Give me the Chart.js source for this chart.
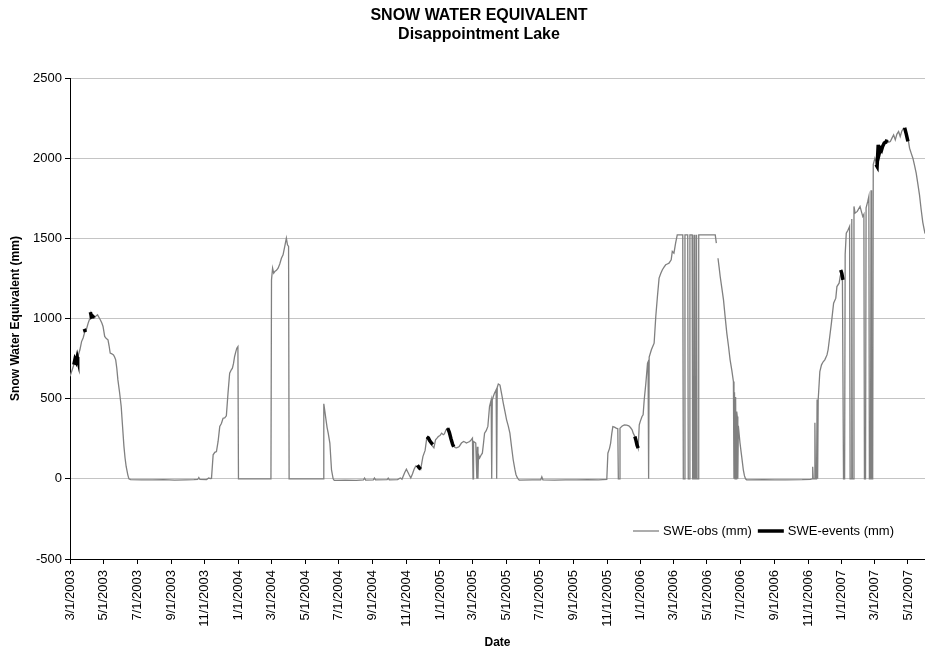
<!DOCTYPE html>
<html>
<head>
<meta charset="utf-8">
<script src="https://cdn.jsdelivr.net/npm/chart.js@4.4.1/dist/chart.umd.min.js"></script>
<style>
  html, body { margin: 0; padding: 0; background: #fff; }
  #wrap { width: 925px; height: 658px; }
</style>
</head>
<body>
<div id="wrap"><canvas id="swe" width="925" height="658"></canvas></div>
<script>
// ---- data -------------------------------------------------------------
const chartTitle = 'SNOW WATER EQUIVALENT';
const chartSubtitle = 'Disappointment Lake';
const xTitle = 'Date';
const yTitle = 'Snow Water Equivalent (mm)';
const startDate = '3/1/2003';
const endDate = '6/1/2007';

const tickLabels = [
  '3/1/2003', '5/1/2003', '7/1/2003', '9/1/2003', '11/1/2003',
  '1/1/2004', '3/1/2004', '5/1/2004', '7/1/2004', '9/1/2004', '11/1/2004',
  '1/1/2005', '3/1/2005', '5/1/2005', '7/1/2005', '9/1/2005', '11/1/2005',
  '1/1/2006', '3/1/2006', '5/1/2006', '7/1/2006', '9/1/2006', '11/1/2006',
  '1/1/2007', '3/1/2007', '5/1/2007'
];

// Observed SWE: [days since 3/1/2003, mm]
const obs2003 = [
  [0,640],[4,680],[7,712],[10,740],[13,745],[15,770],[18,805],[21,856],[24,880],[27,919],
  [30,935],[33,971],[36,1000],[38,1035],[40,1012],[44,1002],[47,1015],[50,1023],[53,1005],
  [55,992],[58,970],[60,950],[63,888],[66,875],[69,867],[71,830],[73,784],[76,780],[79,773],
  [81,760],[83,742],[85,690],[87,617],[90,540],[93,451],[95,350],[98,201],[100,130],[102,77],
  [105,25],[107,0],[110,-5],[130,-6],[150,-7],[170,-5],[190,-8],[210,-6],[225,-5],[232,-4],
  [234,8],[236,-4],[248,-5],[252,5],[255,2],[257,3]
];
const obs2004 = [
  [260,150],[263,165],[266,170],[269,233],[272,326],[275,345],[278,378],[281,380],[284,393],
  [287,534],[290,659],[293,680],[295,690],[297,720],[299,763],[301,790],[303,815],[305,825],
  [306,0],[365,0],[366,1241],[368,1314],[370,1283],[372,1293],[375,1300],[378,1314],[381,1340],
  [384,1376],[387,1397],[390,1449],[393,1501],[395,1460],[397,1450],[398,0],[460,0],[461,468],
  [463,420],[465,368],[467,320],[469,285],[472,223],[475,56],[478,0],[480,-10],[500,-8],
  [520,-9],[533,-7],[535,5],[537,-8],[551,-6],[553,5],[555,-6],[576,-5],[578,4],[580,-7],
  [595,-5],[600,5],[603,-2]
];
const obs2005 = [
  [605,15],[608,40],[611,60],[614,40],[616,25],[619,5],[622,30],[625,60],[628,80],[632,75],
  [635,70],[637,60],[641,139],[645,177],[648,254],[651,245],[654,230],[657,210],[661,193],
  [664,244],[667,255],[669,264],[672,270],[675,285],[678,275],[680,280],[683,306],[686,316],
  [690,270],[694,230],[697,202],[700,195],[702,193],[705,198],[707,202],[711,223],[715,233],
  [718,228],[720,223],[723,228],[726,233],[729,245],[731,254],[732,0],[733,233],[735,228],
  [737,223],[739,0],[740,200],[741,0],[742,150],[744,129],[747,150],[749,160],[751,220],
  [753,285],[756,300],[759,327],[762,451],[765,492],[766,0],[767,492],[769,515],[771,534],
  [774,555],[775,0],[776,570],[778,592],[781,585],[784,530],[787,472],[790,420],[793,368],
  [796,330],[799,285],[802,200],[805,119],[808,60],[810,27],[812,10],[814,0],[816,-8],
  [840,-7],[855,-6],[857,12],[859,-6],[880,-8],[900,-7],[920,-6],[940,-5],[960,-7],[975,-4]
];
const obs2006 = [
  [977,160],[980,190],[982,223],[984,280],[986,326],[989,322],[992,316],[995,312],[996,0],
  [998,0],[999,316],[1003,330],[1007,337],[1011,335],[1015,331],[1018,320],[1021,306],
  [1023,285],[1026,264],[1029,230],[1032,192],[1034,337],[1036,360],[1039,389],[1041,399],
  [1043,493],[1046,597],[1049,722],[1050,730],[1051,0],[1052,760],[1056,805],[1059,830],
  [1061,846],[1064,1012],[1067,1137],[1070,1252],[1073,1280],[1076,1304],[1079,1320],
  [1082,1335],[1085,1340],[1088,1345],[1092,1366],[1094,1418],[1097,1408],[1100,1470],
  [1103,1522],[1113,1522],[1114,0],[1116,0],[1117,1522],[1122,1522],[1123,0],[1125,0],
  [1126,1522],[1130,1522],[1131,0],[1133,0],[1134,1522],[1135,0],[1137,0],[1138,1522],
  [1139,0],[1141,0],[1142,1522],[1150,1522],[1160,1522],[1172,1522],[1174,1470],[1175,null],
  [1177,1376],[1179,1320],[1181,1262],[1184,1190],[1187,1116],[1190,1010],[1193,909],
  [1196,830],[1199,742],[1202,680],[1205,607],[1206,0],[1207,540],[1208,0],[1209,510],
  [1210,0],[1211,420],[1212,389],[1213,0],[1214,330],[1217,223],[1220,140],[1223,56],
  [1225,20],[1227,0],[1229,-6],[1260,-5],[1280,-7],[1300,-6],[1330,-5],[1345,-3]
];
const obs2007 = [
  [1348,0],[1349,75],[1350,0],[1352,0],[1353,350],[1354,0],[1356,0],[1357,495],[1358,0],
  [1359,493],[1362,669],[1365,711],[1368,730],[1371,742],[1375,773],[1377,805],[1380,888],
  [1383,971],[1387,1095],[1391,1127],[1393,1199],[1397,1220],[1399,1262],[1401,1290],
  [1403,1245],[1405,0],[1407,0],[1408,1400],[1410,1532],[1413,1550],[1416,1574],[1417,0],
  [1419,0],[1420,1620],[1421,0],[1423,0],[1424,1699],[1426,1657],[1430,1668],[1435,1699],
  [1438,1660],[1440,1636],[1442,1650],[1443,0],[1445,0],[1446,1690],[1449,1730],[1451,1761],
  [1452,0],[1454,0],[1455,1800],[1456,0],[1458,0],[1459,1960],[1462,2000],[1464,1980],
  [1466,1948],[1468,2083],[1470,2031],[1473,2060],[1476,2073],[1480,2094],[1484,2114],
  [1487,2100],[1490,2104],[1493,2125],[1496,2145],[1499,2114],[1502,2150],[1505,2166],
  [1508,2135],[1511,2170],[1514,2187],[1517,2180],[1520,2140],[1523,2104],[1525,2062],
  [1528,2030],[1531,2000],[1534,1955],[1537,1906],[1540,1840],[1543,1771],[1546,1680],
  [1549,1600],[1553,1530]
];

// SWE during events: [days since 3/1/2003, mm]; a null value ends a segment
const events = [
  [7,712],[9,745],[11,730],[13,760],[14,745],[14,null],
  [26,935],[28,915],[28,null],
  [37,1040],[39,1010],[41,1015],[44,1005],[44,null],
  [631,85],[634,70],[637,60],[637,null],
  [648,262],[651,255],[653,240],[656,225],[659,214],[659,null],
  [686,316],[689,290],[692,250],[695,215],[697,200],[697,null],
  [1026,264],[1028,240],[1030,210],[1032,192],[1032,null],
  [1400,1303],[1402,1280],[1404,1241],[1404,null],
  [1464,1960],[1466,1948],[1468,2083],[1470,2031],[1472,2060],[1474,2050],[1476,2073],
  [1479,2094],[1482,2100],[1484,2114],[1484,null],
  [1516,2190],[1519,2150],[1522,2104]
];

// ---- helpers ----------------------------------------------------------
const FONT = "'Liberation Sans', Arial, Helvetica, sans-serif";
const DAY_MS = 86400000;
function toUTC(s) { const [m, d, y] = s.split('/').map(Number); return Date.UTC(y, m - 1, d); }
const origin = toUTC(startDate);
const dayOf = s => Math.round((toUTC(s) - origin) / DAY_MS);
const tickDays = tickLabels.map(dayOf);
const toPoints = rows => rows.map(([d, v]) => ({ x: d, y: v }));

const obsPoints = toPoints([].concat(obs2003, obs2004, obs2005, obs2006, obs2007));
const eventPoints = toPoints(events);

// Titles and the in-plot legend
const decorations = {
  id: 'decorations',
  afterDraw(chart) {
    const ctx = chart.ctx;
    ctx.save();
    ctx.fillStyle = '#000';
    ctx.textAlign = 'center';
    ctx.textBaseline = 'middle';
    ctx.font = 'bold 16px ' + FONT;
    ctx.fillText(chartTitle, 479, 16);
    ctx.fillText(chartSubtitle, 479, 35);

    // legend, bottom-right inside the plot
    ctx.font = '13px ' + FONT;
    ctx.textAlign = 'left';
    let x = 633;
    const y = 531;
    chart.data.datasets.forEach(ds => {
      ctx.strokeStyle = ds.borderColor;
      ctx.lineWidth = ds.borderWidth;
      ctx.beginPath();
      ctx.moveTo(x, y);
      ctx.lineTo(x + 26, y);
      ctx.stroke();
      x += 30;
      ctx.fillText(ds.label, x, y);
      x += ctx.measureText(ds.label).width + 6;
    });
    ctx.restore();
  }
};

Chart.defaults.font.family = FONT;
Chart.defaults.font.size = 13;
Chart.defaults.color = '#000';

new Chart(document.getElementById('swe'), {
  type: 'line',
  data: {
    datasets: [
      {
        label: 'SWE-obs (mm)',
        data: obsPoints,
        borderColor: '#808080',
        borderWidth: 1.3,
        pointRadius: 0,
        tension: 0,
        spanGaps: false,
        order: 2
      },
      {
        label: 'SWE-events (mm)',
        data: eventPoints,
        borderColor: '#000000',
        borderWidth: 3.5,
        pointRadius: 0,
        tension: 0,
        spanGaps: false,
        order: 1
      }
    ]
  },
  options: {
    responsive: false,
    animation: false,
    devicePixelRatio: 1,
    layout: { padding: { top: 78, right: 0, bottom: 0, left: 0 } },
    plugins: {
      legend: { display: false },
      title: { display: false },
      tooltip: { enabled: false }
    },
    scales: {
      x: {
        type: 'linear',
        min: 0,
        max: dayOf(endDate),
        afterBuildTicks: scale => { scale.ticks = tickDays.map(v => ({ value: v })); },
        afterFit: scale => {
          scale.height = 99;
          scale.paddingLeft = 0;
          scale.paddingRight = 0;
        },
        ticks: {
          autoSkip: false,
          minRotation: 90,
          maxRotation: 90,
          padding: 6,
          font: { size: 13 },
          callback: (value, index) => tickLabels[index]
        },
        grid: {
          drawOnChartArea: false,
          drawTicks: true,
          tickLength: 5,
          tickColor: '#000'
        },
        border: { display: true, color: '#000', width: 1 },
        title: {
          display: true,
          text: xTitle,
          font: { size: 12, weight: 'bold' },
          padding: { top: 4, bottom: 8 }
        }
      },
      y: {
        min: -500,
        max: 2500,
        afterFit: scale => { scale.width = 70; },
        ticks: {
          stepSize: 500,
          padding: 3,
          font: { size: 13 },
          callback: value => String(value)
        },
        grid: {
          color: c => (c.tick && c.tick.value === -500 ? '#000' : '#c4c4c4'),
          lineWidth: 1,
          tickLength: 5,
          tickColor: '#000'
        },
        border: { display: true, color: '#000', width: 1 },
        title: {
          display: true,
          text: yTitle,
          font: { size: 12, weight: 'bold' },
          padding: { top: 8, bottom: 4 }
        }
      }
    }
  },
  plugins: [decorations]
});
</script>
</body>
</html>
